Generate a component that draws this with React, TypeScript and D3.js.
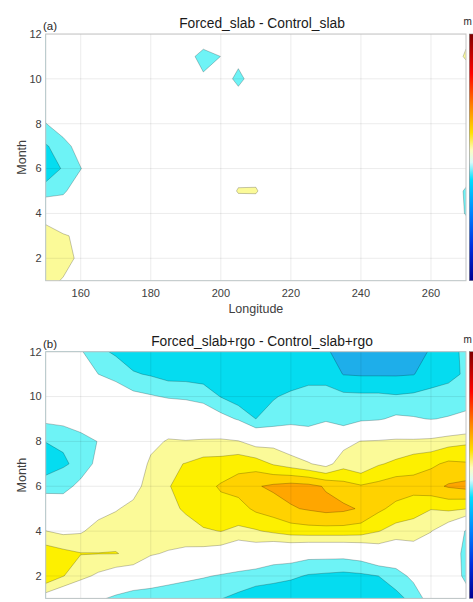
import React, { useMemo } from "react";
import * as d3 from "d3";

const W = 473;
const H = 602;

// grid axes of both difference fields
const lons = [150, 155, 160, 165, 170, 175, 180, 185, 190, 195, 200, 205, 210, 215, 220, 225, 230, 235, 240, 245, 250, 255, 260, 265, 270];
const months = [1, 2, 3, 4, 5, 6, 7, 8, 9, 10, 11, 12];

const lonTicks = [160, 180, 200, 220, 240, 260];
const monthTicks = [2, 4, 6, 8, 10, 12];

// contour levels; bandColors[0] fills below the first level, bandColors[k + 1] fills >= levels[k]
const levels = [-2, -1.5, -1, -0.5, 0.5, 1, 1.5, 2, 2.5];
const bandColors = ["#1f8fe6", "#1eaeea", "#05dcf0", "#6ef3f6", "#ffffff", "#fbfa98", "#fdf000", "#ffd200", "#ffa600", "#ff6a00"];

// Forced_slab - Control_slab, one row per month (Jan first), one column per longitude
const slabDiff = [
  [0.7, 0.45, 0, 0, 0, 0, 0, 0, 0, 0, 0, 0, 0, 0, 0, 0, 0, 0, 0, 0, 0, 0, 0, 0, 0],
  [0.75, 0.75, 0.35, 0, 0, 0, 0, 0, 0, 0, 0, 0, 0, 0, 0, 0, 0, 0, 0, 0, 0, 0, 0, 0, 0],
  [0.7, 0.55, 0.4, 0, 0, 0, 0, 0, 0, 0, 0, 0, 0, 0, 0, 0, 0, 0, 0, 0, 0, 0, 0, 0, 0],
  [0.3, 0, 0, 0, 0, 0, 0, 0, 0, 0, 0, 0, 0, 0, 0, 0, 0, 0, 0, 0, 0, 0, 0, 0, -0.55],
  [-0.8, -0.6, -0.1, 0, 0, 0, 0, 0, 0, 0, 0, 0.56, 0.57, 0, 0, 0, 0, 0, 0, 0, 0, 0, 0, 0, -0.6],
  [-1.3, -0.95, -0.52, 0, 0, 0, 0, 0, 0, 0, 0, 0.15, 0.15, 0, 0, 0, 0, 0, 0, 0, 0, 0, 0, 0, 0],
  [-1.05, -0.75, -0.2, 0, 0, 0, 0, 0, 0, 0, 0, 0, 0, 0, 0, 0, 0, 0, 0, 0, 0, 0, 0, 0, 0],
  [-0.52, -0.1, 0, 0, 0, 0, 0, 0, 0, 0, 0, 0, 0, 0, 0, 0, 0, 0, 0, 0, 0, 0, 0, 0, 0],
  [0, 0, 0, 0, 0, 0, 0, 0, 0, 0, 0, 0, 0, 0, 0, 0, 0, 0, 0, 0, 0, 0, 0, 0, 0],
  [0, 0, 0, 0, 0, 0, 0, 0, 0, -0.3, 0, -0.75, 0, 0, 0, 0, 0, 0, 0, 0, 0, 0, 0, 0, 0],
  [0, 0, 0, 0, 0, 0, 0, 0, 0, -0.95, -0.49, -0.2, 0, 0, 0, 0, 0, 0, 0, 0, 0, 0, 0, 0, 0.6],
  [0, 0, 0, 0, 0, 0, 0, 0, 0, 0.45, 0.2, 0, 0, 0, 0, 0, 0, 0, 0, 0, 0, 0, 0, 0, 0.3],
];

// Forced_slab+rgo - Control_slab+rgo
const slabRgoDiff = [
  [0.2, -0.1, -0.2, -0.4, -0.62, -0.8, -0.9, -0.9, -0.95, -0.98, -0.98, -1.15, -1.3, -1.4, -1.45, -1.45, -1.45, -1.45, -1.45, -1.45, -1.15, -0.85, -0.2, -0.2, -0.3],
  [1.4, 1.02, 0.65, 0.4, 0.18, 0.05, -0.01, -0.23, -0.35, -0.45, -0.55, -0.6, -0.75, -0.8, -0.9, -1.05, -1.1, -1.15, -1.1, -1.0, -0.75, -0.35, -0.1, -0.2, -0.6],
  [1.3, 1.15, 1.02, 1.01, 1.01, 0.95, 0.55, 0.45, 0.35, 0.3, 0.2, -0.1, 0.05, -0.2, -0.2, -0.3, -0.3, -0.3, -0.2, 0.1, 0.0, 0.2, 0.1, -0.15, -0.65],
  [0.51, 0.38, 0.44, 0.7, 0.9, 0.95, 0.85, 0.8, 0.85, 0.95, 1.01, 0.9, 0.95, 1.1, 1.25, 1.3, 1.3, 1.3, 1.25, 1.02, 0.8, 0.75, 0.52, 0.1, -0.55],
  [0.1, 0.0, 0.0, 0.3, 0.44, 0.7, 0.9, 0.9, 1.05, 1.25, 1.35, 1.3, 1.6, 1.75, 1.95, 2.05, 2.15, 2.1, 1.95, 1.6, 1.35, 1.2, 1.02, 1.1, 1.02],
  [-0.78, -0.75, -0.3, 0.0, 0.1, 0.2, 0.85, 0.97, 1.2, 1.35, 1.55, 1.7, 1.95, 2.1, 2.2, 2.15, 1.95, 1.7, 1.55, 1.65, 1.8, 1.7, 1.85, 2.05, 2.15],
  [-1.23, -1.05, -0.9, -0.3, 0.0, 0.1, 0.6, 0.9, 1.02, 1.19, 1.2, 1.34, 1.26, 0.95, 0.75, 0.55, 0.3, 0.8, 0.6, 0.95, 1.1, 1.3, 1.4, 1.6, 1.55],
  [-0.99, -0.95, -0.75, -0.48, -0.1, -0.1, 0.35, 0.55, 0.52, 0.56, 0.6, 0.53, 0.26, 0.31, 0.1, -0.1, -0.1, 0.3, 0.52, 0.55, 0.6, 0.6, 0.65, 0.8, 0.9],
  [-0.38, -0.3, -0.12, -0.35, -0.2, -0.3, -0.2, 0.1, 0.1, -0.06, -0.3, -0.55, -1.0, -0.9, -0.7, -0.7, -0.55, -0.84, -0.6, -0.55, -0.4, -0.45, -0.52, -0.45, -0.3],
  [-0.1, -0.1, 0.0, -0.2, -0.3, -0.35, -0.45, -0.55, -0.6, -0.69, -1.02, -1.3, -1.2, -1.02, -0.95, -0.9, -0.85, -0.88, -0.9, -0.9, -0.95, -0.9, -0.85, -0.85, -0.85],
  [0.0, 0.0, -0.1, -0.5, -0.6, -0.95, -1.05, -1.2, -1.2, -1.25, -1.3, -1.35, -1.35, -1.3, -1.15, -1.1, -1.15, -1.52, -1.55, -1.55, -1.55, -1.52, -1.25, -1.1, -0.95],
  [0.1, 0.1, -0.45, -0.85, -1.1, -1.3, -1.35, -1.35, -1.35, -1.4, -1.4, -1.4, -1.4, -1.4, -1.4, -1.45, -1.45, -1.65, -1.7, -1.75, -1.75, -1.7, -1.45, -1.15, -0.9],
];

// continuous colour scale shown in the colorbar (top = high)
const cbOffsets = [0, 0.06, 0.16, 0.29, 0.4, 0.47, 0.52, 0.59, 0.73, 0.86, 1];
const cbColors = ["#7f0000", "#b00000", "#ff0000", "#ff8000", "#ffe000", "#fdfdc0", "#d8fbfb", "#00e0ff", "#0080ff", "#0030e0", "#000090"];

const FONT = "'Liberation Sans', Arial, Helvetica, sans-serif";
const X0 = 45.7;
const X1 = 466;

interface PanelProps {
  id: string;
  top: number;
  bottom: number;
  tag: string;
  title: string;
  grid: number[][];
  lonLabels: boolean;
}

const ContourPanel: React.FC<PanelProps> = ({ id, top, bottom, tag, title, grid, lonLabels }) => {
  const x = d3.scaleLinear().domain([150, 270]).range([X0, X1]);
  const y = d3.scaleLinear().domain([1, 12]).range([bottom, top]);

  const bands = useMemo(() => {
    // grid cell coordinates -> lon / month (sample i sits at i + 0.5)
    const gx = d3.scaleLinear().domain([0.5, lons.length - 0.5]).range([lons[0], lons[lons.length - 1]]);
    const gy = d3.scaleLinear().domain([0.5, months.length - 0.5]).range([months[0], months[months.length - 1]]);
    const path = d3.geoPath(
      d3.geoTransform({
        point(px: number, py: number) {
          (this as any).stream.point(x(gx(px)), y(gy(py)));
        },
      })
    );
    const cs = d3.contours().size([lons.length, months.length]).thresholds(levels)(grid.flat());
    return cs.map((c, i) => ({ d: path(c as any) || "", fill: bandColors[i + 1] }));
  }, [grid, top, bottom]);

  const clipId = `clip-${id}`;
  const gradId = `cb-${id}`;

  return (
    <g>
      <defs>
        <clipPath id={clipId}>
          <rect x={X0} y={top} width={X1 - X0} height={bottom - top} />
        </clipPath>
        <linearGradient id={gradId} x1="0" y1="0" x2="0" y2="1">
          {cbOffsets.map((o, i) => (
            <stop key={i} offset={o} stopColor={cbColors[i]} />
          ))}
        </linearGradient>
      </defs>

      <g clipPath={`url(#${clipId})`}>
        <rect x={X0} y={top} width={X1 - X0} height={bottom - top} fill={bandColors[0]} />
        {bands.map((b, i) => (
          <path key={i} d={b.d} fill={b.fill} stroke="#000" strokeOpacity={0.45} strokeWidth={0.5} />
        ))}
        {lonTicks.map((t) => (
          <line key={`gx${t}`} x1={x(t)} x2={x(t)} y1={top} y2={bottom} stroke="#000" strokeOpacity={0.08} />
        ))}
        {monthTicks.map((t) => (
          <line key={`gy${t}`} x1={X0} x2={X1} y1={y(t)} y2={y(t)} stroke="#000" strokeOpacity={0.08} />
        ))}
      </g>
      <rect x={X0} y={top} width={X1 - X0} height={bottom - top} fill="none" stroke="#c4c4c4" strokeWidth={1} />

      {monthTicks.map((t) => (
        <text key={`ly${t}`} x={X0 - 4} y={y(t)} dy="0.35em" textAnchor="end" fontSize={11} fill="#404040" fontFamily={FONT}>
          {t}
        </text>
      ))}
      {lonLabels &&
        lonTicks.map((t) => (
          <text key={`lx${t}`} x={x(t)} y={bottom + 16} textAnchor="middle" fontSize={11} fill="#404040" fontFamily={FONT}>
            {t}
          </text>
        ))}
      {lonLabels && (
        <text x={(X0 + X1) / 2} y={bottom + 32} textAnchor="middle" fontSize={12.5} fill="#404040" fontFamily={FONT}>
          Longitude
        </text>
      )}
      <text
        transform={`translate(25.5,${(top + bottom) / 2}) rotate(-90)`}
        textAnchor="middle"
        fontSize={12.5}
        fill="#404040"
        fontFamily={FONT}
      >
        Month
      </text>

      <text x={43} y={top - 4} fontSize={11.5} fill="#262626" fontFamily={FONT}>
        {tag}
      </text>
      <text x={262} y={top - 6} textAnchor="middle" fontSize={13.8} fill="#1a1a1a" fontFamily={FONT}>
        {title}
      </text>

      <rect x={469.3} y={top} width={14} height={bottom - top} fill={`url(#${gradId})`} stroke="#777" strokeWidth={0.5} />
      <text x={463.5} y={top - 9} fontSize={10} fill="#262626" fontFamily={FONT}>
        m
      </text>
    </g>
  );
};

export default function App() {
  return (
    <svg width={W} height={H} style={{ position: "absolute", left: 0, top: 0, display: "block", background: "#fff" }}>
      <ContourPanel id="a" top={34} bottom={280.7} tag="(a)" title="Forced_slab - Control_slab" grid={slabDiff} lonLabels />
      <ContourPanel
        id="b"
        top={351.7}
        bottom={598.4}
        tag="(b)"
        title="Forced_slab+rgo - Control_slab+rgo"
        grid={slabRgoDiff}
        lonLabels={false}
      />
    </svg>
  );
}
